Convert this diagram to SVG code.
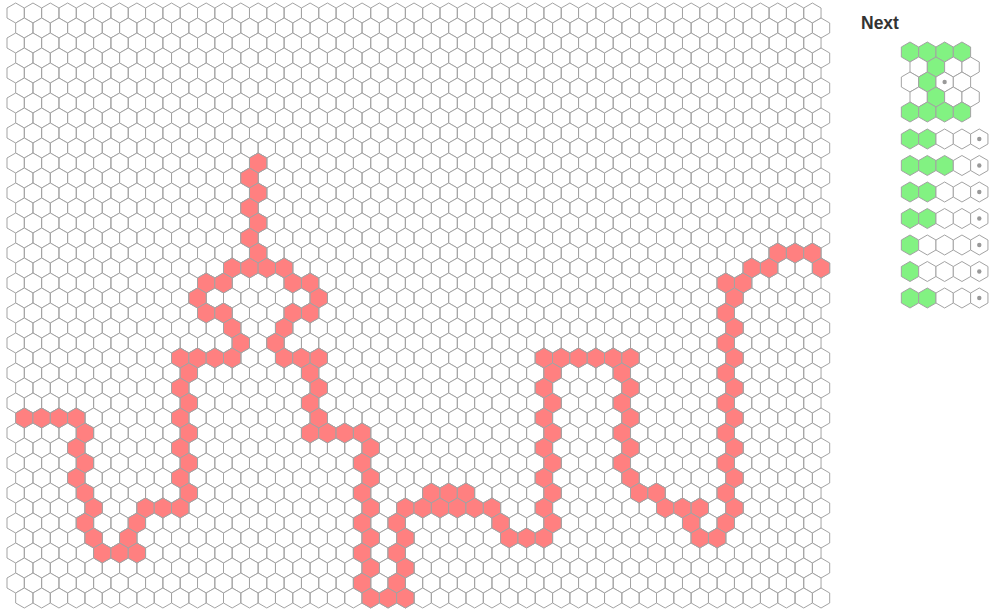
<svg xmlns="http://www.w3.org/2000/svg" width="989" height="613" viewBox="0 0 989 613">
<style>
.grid{fill:#fff;stroke:#a3a3a3;stroke-width:1}
.r{fill:#ff8080;stroke:#a3a3a3;stroke-width:1}
.gn{fill:#82f282;stroke:#a3a3a3;stroke-width:1}
.w{fill:#fff;stroke:#a3a3a3;stroke-width:1}
.dot{fill:#999}
.title{font-family:"Liberation Sans",Arial,sans-serif;font-weight:bold;font-size:17.5px;fill:#333}
</style>
<defs>
<path id="h" d="M0-10L8.66-5V5L0 10-8.66 5V-5Z"/>
<path id="row" d="M7 8l8.66-5 8.66 5v10l-8.66 5-8.66-5zm17.32 0l8.66-5 8.66 5v10l-8.66 5-8.66-5zm17.32 0l8.66-5 8.66 5v10l-8.66 5-8.66-5zm17.32 0l8.66-5 8.66 5v10l-8.66 5-8.66-5zm17.32 0l8.66-5 8.66 5v10l-8.66 5-8.66-5zm17.32 0l8.66-5 8.66 5v10l-8.66 5-8.66-5zm17.32 0l8.66-5 8.66 5v10l-8.66 5-8.66-5zm17.32 0l8.66-5 8.66 5v10l-8.66 5-8.66-5zm17.32 0l8.66-5 8.66 5v10l-8.66 5-8.66-5zm17.32 0l8.66-5 8.66 5v10l-8.66 5-8.66-5zm17.32 0
l8.66-5 8.66 5v10l-8.66 5-8.66-5zm17.32 0l8.66-5 8.66 5v10l-8.66 5-8.66-5zm17.32 0l8.66-5 8.66 5v10l-8.66 5-8.66-5zm17.32 0l8.66-5 8.66 5v10l-8.66 5-8.66-5zm17.32 0l8.66-5 8.66 5v10l-8.66 5-8.66-5zm17.32 0l8.66-5 8.66 5v10l-8.66 5-8.66-5zm17.32 0l8.66-5 8.66 5v10l-8.66 5-8.66-5zm17.32 0l8.66-5 8.66 5v10l-8.66 5-8.66-5zm17.32 0l8.66-5 8.66 5v10l-8.66 5-8.66-5zm17.32 0l8.66-5 8.66 5v10l-8.66 5-8.66-5zm17.32 0
l8.66-5 8.66 5v10l-8.66 5-8.66-5zm17.32 0l8.66-5 8.66 5v10l-8.66 5-8.66-5zm17.32 0l8.66-5 8.66 5v10l-8.66 5-8.66-5zm17.32 0l8.66-5 8.66 5v10l-8.66 5-8.66-5zm17.32 0l8.66-5 8.66 5v10l-8.66 5-8.66-5zm17.32 0l8.66-5 8.66 5v10l-8.66 5-8.66-5zm17.32 0l8.66-5 8.66 5v10l-8.66 5-8.66-5zm17.32 0l8.66-5 8.66 5v10l-8.66 5-8.66-5zm17.32 0l8.66-5 8.66 5v10l-8.66 5-8.66-5zm17.32 0l8.66-5 8.66 5v10l-8.66 5-8.66-5zm17.32 0
l8.66-5 8.66 5v10l-8.66 5-8.66-5zm17.32 0l8.66-5 8.66 5v10l-8.66 5-8.66-5zm17.32 0l8.66-5 8.66 5v10l-8.66 5-8.66-5zm17.32 0l8.66-5 8.66 5v10l-8.66 5-8.66-5zm17.32 0l8.66-5 8.66 5v10l-8.66 5-8.66-5zm17.32 0l8.66-5 8.66 5v10l-8.66 5-8.66-5zm17.32 0l8.66-5 8.66 5v10l-8.66 5-8.66-5zm17.32 0l8.66-5 8.66 5v10l-8.66 5-8.66-5zm17.32 0l8.66-5 8.66 5v10l-8.66 5-8.66-5zm17.32 0l8.66-5 8.66 5v10l-8.66 5-8.66-5zm17.32 0
l8.66-5 8.66 5v10l-8.66 5-8.66-5zm17.32 0l8.66-5 8.66 5v10l-8.66 5-8.66-5zm17.32 0l8.66-5 8.66 5v10l-8.66 5-8.66-5zm17.32 0l8.66-5 8.66 5v10l-8.66 5-8.66-5zm17.32 0l8.66-5 8.66 5v10l-8.66 5-8.66-5zm17.32 0l8.66-5 8.66 5v10l-8.66 5-8.66-5zm17.32 0l8.66-5 8.66 5v10l-8.66 5-8.66-5z"/>
</defs>
<rect width="989" height="613" fill="#fff"/>
<g id="board" class="grid">
<use href="#row" y="0"/><use href="#row" x="8.66" y="15"/>
<use href="#row" y="30"/><use href="#row" x="8.66" y="45"/>
<use href="#row" y="60"/><use href="#row" x="8.66" y="75"/>
<use href="#row" y="90"/><use href="#row" x="8.66" y="105"/>
<use href="#row" y="120"/><use href="#row" x="8.66" y="135"/>
<use href="#row" y="150"/><use href="#row" x="8.66" y="165"/>
<use href="#row" y="180"/><use href="#row" x="8.66" y="195"/>
<use href="#row" y="210"/><use href="#row" x="8.66" y="225"/>
<use href="#row" y="240"/><use href="#row" x="8.66" y="255"/>
<use href="#row" y="270"/><use href="#row" x="8.66" y="285"/>
<use href="#row" y="300"/><use href="#row" x="8.66" y="315"/>
<use href="#row" y="330"/><use href="#row" x="8.66" y="345"/>
<use href="#row" y="360"/><use href="#row" x="8.66" y="375"/>
<use href="#row" y="390"/><use href="#row" x="8.66" y="405"/>
<use href="#row" y="420"/><use href="#row" x="8.66" y="435"/>
<use href="#row" y="450"/><use href="#row" x="8.66" y="465"/>
<use href="#row" y="480"/><use href="#row" x="8.66" y="495"/>
<use href="#row" y="510"/><use href="#row" x="8.66" y="525"/>
<use href="#row" y="540"/><use href="#row" x="8.66" y="555"/>
<use href="#row" y="570"/><use href="#row" x="8.66" y="585"/>
</g>
<g id="filled" class="r">
<use href="#h" x="258.14" y="163"/>
<use href="#h" x="249.48" y="178"/>
<use href="#h" x="258.14" y="193"/>
<use href="#h" x="249.48" y="208"/>
<use href="#h" x="258.14" y="223"/>
<use href="#h" x="249.48" y="238"/>
<use href="#h" x="258.14" y="253"/><use href="#h" x="777.74" y="253"/><use href="#h" x="795.06" y="253"/><use href="#h" x="812.38" y="253"/>
<use href="#h" x="232.16" y="268"/><use href="#h" x="249.48" y="268"/><use href="#h" x="266.8" y="268"/><use href="#h" x="284.12" y="268"/><use href="#h" x="751.76" y="268"/><use href="#h" x="769.08" y="268"/><use href="#h" x="821.04" y="268"/>
<use href="#h" x="206.18" y="283"/><use href="#h" x="223.5" y="283"/><use href="#h" x="292.78" y="283"/><use href="#h" x="310.1" y="283"/><use href="#h" x="725.78" y="283"/><use href="#h" x="743.1" y="283"/>
<use href="#h" x="197.52" y="298"/><use href="#h" x="318.76" y="298"/><use href="#h" x="734.44" y="298"/>
<use href="#h" x="206.18" y="313"/><use href="#h" x="223.5" y="313"/><use href="#h" x="292.78" y="313"/><use href="#h" x="310.1" y="313"/><use href="#h" x="725.78" y="313"/>
<use href="#h" x="232.16" y="328"/><use href="#h" x="284.12" y="328"/><use href="#h" x="734.44" y="328"/>
<use href="#h" x="240.82" y="343"/><use href="#h" x="275.46" y="343"/><use href="#h" x="725.78" y="343"/>
<use href="#h" x="180.2" y="358"/><use href="#h" x="197.52" y="358"/><use href="#h" x="214.84" y="358"/><use href="#h" x="232.16" y="358"/><use href="#h" x="284.12" y="358"/><use href="#h" x="301.44" y="358"/><use href="#h" x="318.76" y="358"/><use href="#h" x="543.92" y="358"/><use href="#h" x="561.24" y="358"/><use href="#h" x="578.56" y="358"/><use href="#h" x="595.88" y="358"/><use href="#h" x="613.2" y="358"/><use href="#h" x="630.52" y="358"/><use href="#h" x="734.44" y="358"/>
<use href="#h" x="188.86" y="373"/><use href="#h" x="310.1" y="373"/><use href="#h" x="552.58" y="373"/><use href="#h" x="621.86" y="373"/><use href="#h" x="725.78" y="373"/>
<use href="#h" x="180.2" y="388"/><use href="#h" x="318.76" y="388"/><use href="#h" x="543.92" y="388"/><use href="#h" x="630.52" y="388"/><use href="#h" x="734.44" y="388"/>
<use href="#h" x="188.86" y="403"/><use href="#h" x="310.1" y="403"/><use href="#h" x="552.58" y="403"/><use href="#h" x="621.86" y="403"/><use href="#h" x="725.78" y="403"/>
<use href="#h" x="24.32" y="418"/><use href="#h" x="41.64" y="418"/><use href="#h" x="58.96" y="418"/><use href="#h" x="76.28" y="418"/><use href="#h" x="180.2" y="418"/><use href="#h" x="318.76" y="418"/><use href="#h" x="543.92" y="418"/><use href="#h" x="630.52" y="418"/><use href="#h" x="734.44" y="418"/>
<use href="#h" x="84.94" y="433"/><use href="#h" x="188.86" y="433"/><use href="#h" x="310.1" y="433"/><use href="#h" x="327.42" y="433"/><use href="#h" x="344.74" y="433"/><use href="#h" x="362.06" y="433"/><use href="#h" x="552.58" y="433"/><use href="#h" x="621.86" y="433"/><use href="#h" x="725.78" y="433"/>
<use href="#h" x="76.28" y="448"/><use href="#h" x="180.2" y="448"/><use href="#h" x="370.72" y="448"/><use href="#h" x="543.92" y="448"/><use href="#h" x="630.52" y="448"/><use href="#h" x="734.44" y="448"/>
<use href="#h" x="84.94" y="463"/><use href="#h" x="188.86" y="463"/><use href="#h" x="362.06" y="463"/><use href="#h" x="552.58" y="463"/><use href="#h" x="621.86" y="463"/><use href="#h" x="725.78" y="463"/>
<use href="#h" x="76.28" y="478"/><use href="#h" x="180.2" y="478"/><use href="#h" x="370.72" y="478"/><use href="#h" x="543.92" y="478"/><use href="#h" x="630.52" y="478"/><use href="#h" x="734.44" y="478"/>
<use href="#h" x="84.94" y="493"/><use href="#h" x="188.86" y="493"/><use href="#h" x="362.06" y="493"/><use href="#h" x="431.34" y="493"/><use href="#h" x="448.66" y="493"/><use href="#h" x="465.98" y="493"/><use href="#h" x="552.58" y="493"/><use href="#h" x="639.18" y="493"/><use href="#h" x="656.5" y="493"/><use href="#h" x="725.78" y="493"/>
<use href="#h" x="93.6" y="508"/><use href="#h" x="145.56" y="508"/><use href="#h" x="162.88" y="508"/><use href="#h" x="180.2" y="508"/><use href="#h" x="370.72" y="508"/><use href="#h" x="405.36" y="508"/><use href="#h" x="422.68" y="508"/><use href="#h" x="440" y="508"/><use href="#h" x="457.32" y="508"/><use href="#h" x="474.64" y="508"/><use href="#h" x="491.96" y="508"/><use href="#h" x="543.92" y="508"/><use href="#h" x="665.16" y="508"/><use href="#h" x="682.48" y="508"/><use href="#h" x="699.8" y="508"/><use href="#h" x="734.44" y="508"/>
<use href="#h" x="84.94" y="523"/><use href="#h" x="136.9" y="523"/><use href="#h" x="362.06" y="523"/><use href="#h" x="396.7" y="523"/><use href="#h" x="500.62" y="523"/><use href="#h" x="552.58" y="523"/><use href="#h" x="691.14" y="523"/><use href="#h" x="725.78" y="523"/>
<use href="#h" x="93.6" y="538"/><use href="#h" x="128.24" y="538"/><use href="#h" x="370.72" y="538"/><use href="#h" x="405.36" y="538"/><use href="#h" x="509.28" y="538"/><use href="#h" x="526.6" y="538"/><use href="#h" x="543.92" y="538"/><use href="#h" x="699.8" y="538"/><use href="#h" x="717.12" y="538"/>
<use href="#h" x="102.26" y="553"/><use href="#h" x="119.58" y="553"/><use href="#h" x="136.9" y="553"/><use href="#h" x="362.06" y="553"/><use href="#h" x="396.7" y="553"/>
<use href="#h" x="370.72" y="568"/><use href="#h" x="405.36" y="568"/>
<use href="#h" x="362.06" y="583"/><use href="#h" x="396.7" y="583"/>
<use href="#h" x="370.72" y="598"/><use href="#h" x="388.04" y="598"/><use href="#h" x="405.36" y="598"/>
</g>
<g id="next">
<text class="title" x="861" y="28.5">Next</text>
<g id="piece-1">
<use href="#h" class="gn" x="910" y="52"/><use href="#h" class="gn" x="927.32" y="52"/><use href="#h" class="gn" x="944.64" y="52"/><use href="#h" class="gn" x="961.96" y="52"/>
<use href="#h" class="w" x="918.66" y="67"/><use href="#h" class="gn" x="935.98" y="67"/><use href="#h" class="w" x="953.3" y="67"/><use href="#h" class="w" x="970.62" y="67"/>
<use href="#h" class="w" x="910" y="82"/><use href="#h" class="gn" x="927.32" y="82"/><use href="#h" class="w" x="944.64" y="82"/><use href="#h" class="w" x="961.96" y="82"/>
<use href="#h" class="w" x="918.66" y="97"/><use href="#h" class="gn" x="935.98" y="97"/><use href="#h" class="w" x="953.3" y="97"/><use href="#h" class="w" x="970.62" y="97"/>
<use href="#h" class="gn" x="910" y="112"/><use href="#h" class="gn" x="927.32" y="112"/><use href="#h" class="gn" x="944.64" y="112"/><use href="#h" class="gn" x="961.96" y="112"/>
<circle class="dot" cx="944.64" cy="82" r="2.2"/>
</g>
<g id="piece-2">
<use href="#h" class="gn" x="910" y="139"/><use href="#h" class="gn" x="927.32" y="139"/><use href="#h" class="w" x="944.64" y="139"/><use href="#h" class="w" x="961.96" y="139"/><use href="#h" class="w" x="979.28" y="139"/>
<circle class="dot" cx="979.28" cy="139" r="2.2"/>
</g>
<g id="piece-3">
<use href="#h" class="gn" x="910" y="165.5"/><use href="#h" class="gn" x="927.32" y="165.5"/><use href="#h" class="gn" x="944.64" y="165.5"/><use href="#h" class="w" x="961.96" y="165.5"/><use href="#h" class="w" x="979.28" y="165.5"/>
<circle class="dot" cx="979.28" cy="165.5" r="2.2"/>
</g>
<g id="piece-4">
<use href="#h" class="gn" x="910" y="192"/><use href="#h" class="gn" x="927.32" y="192"/><use href="#h" class="w" x="944.64" y="192"/><use href="#h" class="w" x="961.96" y="192"/><use href="#h" class="w" x="979.28" y="192"/>
<circle class="dot" cx="979.28" cy="192" r="2.2"/>
</g>
<g id="piece-5">
<use href="#h" class="gn" x="910" y="218.5"/><use href="#h" class="gn" x="927.32" y="218.5"/><use href="#h" class="w" x="944.64" y="218.5"/><use href="#h" class="w" x="961.96" y="218.5"/><use href="#h" class="w" x="979.28" y="218.5"/>
<circle class="dot" cx="979.28" cy="218.5" r="2.2"/>
</g>
<g id="piece-6">
<use href="#h" class="gn" x="910" y="245"/><use href="#h" class="w" x="927.32" y="245"/><use href="#h" class="w" x="944.64" y="245"/><use href="#h" class="w" x="961.96" y="245"/><use href="#h" class="w" x="979.28" y="245"/>
<circle class="dot" cx="979.28" cy="245" r="2.2"/>
</g>
<g id="piece-7">
<use href="#h" class="gn" x="910" y="271.5"/><use href="#h" class="w" x="927.32" y="271.5"/><use href="#h" class="w" x="944.64" y="271.5"/><use href="#h" class="w" x="961.96" y="271.5"/><use href="#h" class="w" x="979.28" y="271.5"/>
<circle class="dot" cx="979.28" cy="271.5" r="2.2"/>
</g>
<g id="piece-8">
<use href="#h" class="gn" x="910" y="298"/><use href="#h" class="gn" x="927.32" y="298"/><use href="#h" class="w" x="944.64" y="298"/><use href="#h" class="w" x="961.96" y="298"/><use href="#h" class="w" x="979.28" y="298"/>
<circle class="dot" cx="979.28" cy="298" r="2.2"/>
</g>
</g>
</svg>
